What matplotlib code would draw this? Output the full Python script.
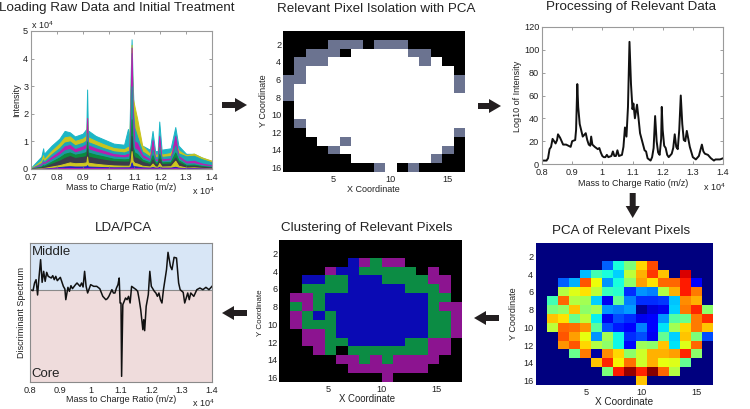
import matplotlib
matplotlib.use("Agg")
import matplotlib.pyplot as plt
from matplotlib.patches import FancyArrow
from matplotlib.transforms import Affine2D

plt.rcParams["font.family"] = ["Liberation Sans", "DejaVu Sans"]
plt.rcParams["mathtext.fontset"] = "custom"
plt.rcParams["mathtext.rm"] = "Liberation Sans"

W, H = 750, 409

# ---------------------------------------------------------------- raw data panel
raw_mz = [.70, .74, .747, .75, .78, .81, .83, .85, .87, .90, .914, .917, .920, .95, .98, 1.02, 1.06, 1.075, 1.08,
          1.085, 1.089, 1.093, 1.10, 1.11, 1.13, 1.16, 1.17, 1.18, 1.19, 1.196, 1.205, 1.24, 1.258, 1.27, 1.30,
          1.33, 1.36, 1.40]
raw_cyan = [.05, .45, .75, .55, .85, 1.1, 1.38, 1.33, 1.18, 1.28, 1.45, 2.88, 1.4, 1.2, 1.08, .92, .88, 1.45, .98,
            3.2, 4.7, 3.2, 1.4, 1.25, .85, .7, 1.38, .65, .65, 1.72, .7, .75, 1.52, .85, .55, .55, .42, .28]
raw_yellow = [.03, .3, .5, .35, .66, .92, 1.15, 1.18, 1.02, 1.1, 1.2, 1.85, 1.15, 1.02, .9, .76, .72, .8, .78,
              2.6, 4.5, 2.6, 2.28, 1.85, .85, .55, .9, .52, .52, 1.0, .52, .58, .95, .68, .5, .56, .42, .3]
raw_teal = [.02, .22, .35, .27, .54, .76, .96, 1.0, .86, .95, 1.03, 1.6, .98, .87, .76, .64, .6, .65, .64,
            2.3, 4.2, 2.3, 1.5, 1.2, .64, .45, .8, .44, .44, .85, .44, .47, .85, .57, .46, .48, .36, .24]
raw_magenta = [.015, .17, .27, .22, .44, .64, .82, .87, .72, .82, .9, 1.85, .86, .75, .66, .54, .5, .55, .54,
               2.1, 4.4, 2.1, 1.0, .95, .52, .35, 1.05, .35, .35, 1.2, .35, .38, 1.2, .47, .27, .3, .2, .13]
raw_teal2 = [.01, .12, .2, .17, .35, .52, .68, .73, .6, .69, .75, 1.3, .72, .63, .55, .45, .42, .45, .44,
             1.3, 3.0, 1.3, .75, .7, .42, .29, .7, .29, .29, .8, .29, .32, .85, .4, .2, .21, .14, .09]
raw_green = [.008, .09, .14, .12, .27, .42, .55, .6, .52, .57, .62, 1.0, .6, .52, .46, .37, .35, .36, .36,
             .8, 1.8, .8, .6, .55, .34, .24, .5, .24, .24, .55, .24, .26, .6, .32, .15, .16, .11, .07]
raw_gray = [.005, .06, .09, .08, .19, .3, .4, .47, .4, .44, .47, .75, .45, .39, .34, .28, .27, .27, .27,
            .55, 1.2, .55, .42, .4, .26, .18, .35, .18, .18, .38, .18, .2, .42, .24, .11, .12, .08, .05]
raw_yellow2 = [.003, .03, .04, .04, .09, .14, .19, .24, .21, .22, .24, .45, .23, .19, .16, .13, .12, .12, .12,
               .28, .65, .3, .22, .2, .12, .09, .2, .09, .09, .22, .09, .1, .3, .12, .05, .06, .04, .03]
raw_blue = [.002, .01, .015, .015, .04, .07, .09, .1, .09, .09, .1, .14, .09, .08, .07, .06, .06, .06, .06,
            .1, .24, .12, .1, .09, .06, .05, .07, .05, .05, .08, .05, .05, .08, .05, .03, .03, .02, .015]
raw_base = [.001, .005, .01, .01, .02, .03, .03, .04, .03, .03, .03, .04, .03, .03, .03, .025, .025, .025,
            .025, .03, .05, .03, .03, .03, .025, .02, .025, .02, .02, .03, .02, .02, .03, .02, .015, .015, .01, .01]
raw_layers = [raw_cyan, raw_yellow, raw_teal, raw_magenta, raw_teal2, raw_green, raw_gray, raw_yellow2, raw_blue,
              raw_base]
raw_colors = ["#1cb6c6", "#c9c41e", "#1ca6b4", "#b81eb0", "#1c9aa0", "#0c8a3e", "#3c3c4a", "#cfc820", "#2020c8",
              "#c018b8"]

# ---------------------------------------------------------------- processed spectrum
proc_mz = [.80, .815, .82, .825, .83, .835, .84, .845, .85, .853, .86, .87, .88, .895, .90, .91, .913, .917, .92,
           .925, .935, .945, .95, .955, .96, .963, .967, .975, .985, .99, .995, 1.0, 1.005, 1.01, 1.015, 1.02,
           1.03, 1.035, 1.04, 1.045, 1.05, 1.055, 1.065, 1.07, 1.075, 1.08, 1.085, 1.09, 1.095, 1.10, 1.103,
           1.108, 1.115, 1.12, 1.125, 1.13, 1.14, 1.145, 1.15, 1.16, 1.165, 1.17, 1.175, 1.18, 1.185, 1.19,
           1.195, 1.197, 1.20, 1.205, 1.21, 1.215, 1.22, 1.23, 1.235, 1.24, 1.245, 1.25, 1.255, 1.26, 1.265,
           1.27, 1.275, 1.28, 1.285, 1.29, 1.30, 1.31, 1.32, 1.33, 1.335, 1.34, 1.35, 1.36, 1.37, 1.375, 1.39,
           1.40]
proc_val = [3, 3, 5, 13, 15, 22, 20, 18, 21, 26, 23, 17, 17, 15, 20, 21, 30, 70, 50,
            35, 24, 27, 21, 17, 16, 24, 17, 15, 13, 14, 10, 7, 6, 6, 8, 6,
            7, 11, 7, 7, 12, 7, 8, 15, 32, 24, 50, 107, 70, 48, 53,
            40, 52, 40, 27, 22, 12, 11, 5, 3, 6, 14, 42, 20, 10, 8,
            22, 50, 30, 16, 14, 8, 6, 9, 14, 26, 15, 13, 30, 60, 35,
            21, 20, 29, 22, 15, 6, 4, 7, 17, 11, 9, 8, 5, 3, 4, 4,
            5]

# ---------------------------------------------------------------- discriminant spectrum
lda_mz = [.80, .81, .815, .82, .825, .83, .835, .84, .845, .85, .855, .86, .87, .875, .88, .885, .89, .90, .91,
          .915, .918, .925, .93, .935, .94, .95, .955, .965, .97, .975, .98, .985, .99, 1.0, 1.01, 1.02, 1.03,
          1.04, 1.05, 1.055, 1.06, 1.07, 1.075, 1.08, 1.085, 1.09, 1.094, 1.097, 1.10, 1.102, 1.106, 1.115,
          1.12, 1.125, 1.13, 1.135, 1.15, 1.155, 1.16, 1.165, 1.172, 1.175, 1.178, 1.183, 1.19, 1.195, 1.20,
          1.21, 1.215, 1.22, 1.225, 1.23, 1.235, 1.24, 1.245, 1.25, 1.255, 1.263, 1.268, 1.275, 1.283, 1.29,
          1.295, 1.305, 1.31, 1.32, 1.325, 1.33, 1.34, 1.35, 1.36, 1.37, 1.38, 1.39, 1.40]
lda_val = [0, -.3, 2, 3, -1.6, 4, 9, 2.2, 5.5, 2.5, 5.2, 4, 3.5, 4.2, 3, 4, 2.7, 3.7, 1,
           .2, -3, .7, -.5, 1.2, .3, 1.5, 2, 1, 2, .8, 5.5, 1, -1, 1.5, 1, 1, .3,
           -2, -3, -2.7, -2, 0, -1, -1, .5, 1.5, 3.5, -4, -4, -26, -4.5, -2.5,
           -3, -2, -4, 1, 0, -.5, -3, -6, -12, -9, -12.3, -5, -1.5, 5.5, 1,
           -.5, -1, -2, -1, -3, -4, 0, 3, 6, 11.2, 7, 6, 9.7, 9.5, 2,
           0, -.8, -4, -1, -3, -1, -2, 0, .5, 0, .7, 0, 1]

# ---------------------------------------------------------------- pixel maps
# 0 black, 1 grey, 2 white
isolation_map = [
    [0, 0, 0, 0, 0, 0, 0, 0, 0, 0, 0, 0, 0, 0, 0, 0],
    [0, 0, 0, 0, 1, 1, 1, 0, 1, 1, 1, 0, 0, 0, 0, 0],
    [0, 0, 1, 1, 1, 0, 2, 2, 2, 2, 2, 1, 1, 0, 0, 0],
    [0, 1, 1, 1, 2, 2, 2, 2, 2, 2, 2, 2, 1, 2, 0, 0],
    [0, 1, 2, 2, 2, 2, 2, 2, 2, 2, 2, 2, 2, 2, 2, 0],
    [1, 1, 2, 2, 2, 2, 2, 2, 2, 2, 2, 2, 2, 2, 2, 1],
    [1, 2, 2, 2, 2, 2, 2, 2, 2, 2, 2, 2, 2, 2, 2, 1],
    [1, 2, 2, 2, 2, 2, 2, 2, 2, 2, 2, 2, 2, 2, 2, 2],
    [0, 2, 2, 2, 2, 2, 2, 2, 2, 2, 2, 2, 2, 2, 2, 2],
    [0, 2, 2, 2, 2, 2, 2, 2, 2, 2, 2, 2, 2, 2, 2, 2],
    [0, 1, 2, 2, 2, 2, 2, 2, 2, 2, 2, 2, 2, 2, 2, 2],
    [0, 0, 2, 2, 2, 2, 2, 2, 2, 2, 2, 2, 2, 2, 2, 1],
    [0, 0, 0, 2, 2, 1, 2, 2, 2, 2, 2, 2, 2, 2, 2, 0],
    [0, 0, 0, 0, 1, 2, 2, 2, 2, 2, 2, 2, 2, 2, 1, 0],
    [0, 0, 0, 0, 0, 0, 2, 2, 2, 2, 2, 2, 2, 1, 0, 0],
    [0, 0, 0, 0, 0, 0, 0, 0, 1, 2, 0, 1, 0, 0, 0, 0],
]

pca_map = [
    [0, 0, 0, 0, 0, 0, 0, 0, 0, 0, 0, 0, 0, 0, 0, 0],
    [0, 0, 0, 0, 0, 0, 0, 0, 0, 0, 0, 0, 0, 0, 0, 0],
    [0, 0, 0, 0, 0, 0, .22, .38, .5, .68, .83, 0, 0, 0, 0, 0],
    [0, 0, 0, 0, .31, .43, .38, .33, .58, .72, .85, .7, 0, .92, 0, 0],
    [0, 0, .22, .3, .82, .64, .27, .38, .52, .74, .67, .8, .8, .88, .12, 0],
    [0, 0, .57, .62, .67, .58, .42, .4, .17, .27, .25, .57, .72, .88, .78, 0],
    [0, .43, .8, .57, .55, .33, .1, .47, .25, .17, .17, .18, .32, .76, .72, 0],
    [0, .5, .53, .7, .52, .55, .27, .25, .28, .02, .08, .1, .33, .78, .87, .52],
    [0, .7, .67, .48, .58, .36, .1, .2, .17, .1, .12, .27, .45, .48, .78, .86],
    [0, .58, .8, .79, .75, .46, .2, .15, .12, .25, .12, .35, .55, .68, .78, .7],
    [0, 0, .82, .74, .63, .27, .55, .37, .17, .2, .1, .47, .33, .7, .5, .2],
    [0, 0, .75, .82, .68, .57, .52, .37, .13, .54, .52, .7, .35, .62, .8, 0],
    [0, 0, 0, .48, .78, .03, .76, .68, .52, .6, .72, .72, .74, .87, .52, 0],
    [0, 0, 0, 0, 0, .7, .87, .65, .79, .6, .72, .63, .62, .47, 0, 0],
    [0, 0, 0, 0, 0, 0, .5, .88, .98, .87, .99, .8, .57, 0, 0, 0],
    [0, 0, 0, 0, 0, 0, 0, 0, 0, .7, 0, 0, 0, 0, 0, 0],
]

# 0 black, 1 blue, 2 green, 3 purple
cluster_map = [
    [0, 0, 0, 0, 0, 0, 0, 0, 0, 0, 0, 0, 0, 0, 0, 0],
    [0, 0, 0, 0, 0, 0, 0, 0, 0, 0, 0, 0, 0, 0, 0, 0],
    [0, 0, 0, 0, 0, 0, 1, 3, 2, 3, 3, 0, 0, 0, 0, 0],
    [0, 0, 0, 0, 3, 1, 1, 2, 2, 2, 2, 2, 0, 3, 0, 0],
    [0, 0, 1, 1, 2, 2, 1, 1, 1, 2, 2, 2, 2, 3, 3, 0],
    [0, 0, 2, 2, 2, 2, 1, 1, 1, 1, 1, 2, 2, 2, 3, 0],
    [0, 3, 3, 2, 1, 1, 1, 1, 1, 1, 1, 1, 1, 2, 2, 0],
    [0, 2, 3, 2, 1, 1, 1, 1, 1, 1, 1, 1, 1, 2, 3, 3],
    [0, 3, 2, 1, 2, 1, 1, 1, 1, 1, 1, 1, 1, 2, 2, 3],
    [0, 3, 2, 2, 2, 1, 1, 1, 1, 1, 1, 1, 1, 2, 2, 3],
    [0, 0, 3, 3, 2, 1, 1, 1, 1, 1, 1, 1, 1, 2, 2, 3],
    [0, 0, 3, 3, 2, 2, 1, 1, 1, 1, 1, 2, 2, 3, 3, 0],
    [0, 0, 0, 3, 2, 0, 2, 2, 2, 2, 2, 2, 2, 3, 3, 0],
    [0, 0, 0, 0, 0, 3, 3, 2, 3, 2, 3, 3, 3, 3, 0, 0],
    [0, 0, 0, 0, 0, 0, 3, 3, 3, 3, 3, 3, 3, 0, 0, 0],
    [0, 0, 0, 0, 0, 0, 0, 0, 0, 3, 0, 0, 0, 0, 0, 0],
]

y_ticks = [2, 4, 6, 8, 10, 12, 14, 16]
x_ticks = [5, 10, 15]
mz_ticks = [.8, .9, 1, 1.1, 1.2, 1.3, 1.4]
mz_labels = ["0.8", "0.9", "1", "1.1", "1.2", "1.3", "1.4"]
raw_mz_ticks = [.7, .8, .9, 1, 1.1, 1.2, 1.3, 1.4]
raw_mz_labels = ["0.7", "0.8", "0.9", "1", "1.1", "1.2", "1.3", "1.4"]

TICK_FS = 6.6
LABEL_FS = 6.5
TITLE_FS = 9.6
INK = "#222222"

fig = plt.figure(figsize=(W / 100, H / 100), dpi=100)
# everything placed in reference pixels, y down
px = Affine2D().scale(1 / W, -1 / H).translate(0, 1) + fig.transFigure


def make_axes(left, top, right, bottom):
    return fig.add_axes([left / W, 1 - bottom / H, (right - left) / W, (bottom - top) / H])


def label(x, y, s, fs=LABEL_FS, rotation=0, ha="center"):
    fig.text(x, y, s, transform=px, fontsize=fs, rotation=rotation, ha=ha, va="center", color=INK)


def style_line_axes(ax):
    for sp in ax.spines.values():
        sp.set_color("#9a9a9a")
        sp.set_linewidth(0.8)
    ax.tick_params(direction="in", length=2, width=0.5, color="#777777", top=True, right=True,
                   labelsize=TICK_FS, labelcolor=INK, pad=2)
    ax.tick_params(axis="x", pad=3)


def style_map_axes(ax, ypad):
    ax.set_xticks(x_ticks)
    ax.set_yticks(y_ticks)
    ax.tick_params(length=0, labelsize=TICK_FS, labelcolor=INK, pad=2)
    ax.tick_params(axis="y", pad=ypad)
    for sp in ax.spines.values():
        sp.set_visible(False)


def arrow(x0, y0, x1, y1):
    fig.add_artist(FancyArrow(x0, y0, x1 - x0, y1 - y0, width=6, head_width=14, head_length=12,
                              length_includes_head=True, transform=px, color="#231f20", lw=0))


# raw spectra
ax = make_axes(31, 31, 212, 169)
for vals, col in zip(raw_layers, raw_colors):
    ax.fill_between(raw_mz, 0, vals, color=col, lw=0.7)
ax.set_xlim(.7, 1.4)
ax.set_ylim(0, 5)
ax.set_xticks(raw_mz_ticks, raw_mz_labels)
ax.set_yticks([0, 1, 2, 3, 4, 5])
style_line_axes(ax)

# isolation map
ax = make_axes(282.5, 31, 464, 172)
ax.imshow(isolation_map, cmap=matplotlib.colors.ListedColormap(["#000000", "#6b7390", "#ffffff"]),
          extent=(.5, 16.5, 16.5, .5), aspect="auto", interpolation="nearest", vmin=0, vmax=2)
style_map_axes(ax, 1)

# processed spectrum
ax = make_axes(542, 27, 723, 164)
ax.plot(proc_mz, proc_val, color="#111111", lw=1.4)
ax.set_xlim(.8, 1.4)
ax.set_ylim(0, 120)
ax.set_xticks(mz_ticks, mz_labels)
ax.set_yticks([0, 20, 40, 60, 80, 100, 120])
style_line_axes(ax)

# PCA map
ax = make_axes(536, 243, 713, 385)
ax.imshow(pca_map, cmap="jet", extent=(.5, 16.5, 16.5, .5), aspect="auto", interpolation="nearest", vmin=0, vmax=1)
style_map_axes(ax, 2)

# cluster map
ax = make_axes(279, 240, 462, 382)
ax.imshow(cluster_map, cmap=matplotlib.colors.ListedColormap(["#000000", "#0a0ab4", "#0c8c44", "#8c1490"]),
          extent=(.5, 17.4, 16.5, .5), aspect="auto", interpolation="nearest", vmin=0, vmax=3)
style_map_axes(ax, 1)

# discriminant spectrum
ax = make_axes(30, 243, 212, 382)
ax.axhspan(0, 14, color="#d8e6f6", lw=0)
ax.axhspan(-27.7, 0, color="#efdcdc", lw=0)
ax.axhline(0, color="#8a8a8a", lw=0.8)
ax.plot(lda_mz, lda_val, color="#111111", lw=1.1)
ax.set_xlim(.8, 1.4)
ax.set_ylim(-27.7, 14)
ax.set_xticks(mz_ticks, mz_labels)
ax.set_yticks([])
ax.tick_params(length=0, labelsize=TICK_FS, labelcolor=INK, pad=3)
for sp in ax.spines.values():
    sp.set_color("#8a8a8a")
    sp.set_linewidth(0.8)
ax.text(.805, 11.3, "Middle", fontsize=9.5, color=INK, va="center")
ax.text(.805, -25.3, "Core", fontsize=9.5, color=INK, va="center")

# titles
label(117, 8, "Loading Raw Data and Initial Treatment", TITLE_FS)
label(376, 9, "Relevant Pixel Isolation with PCA", TITLE_FS)
label(631, 7, "Processing of Relevant Data", TITLE_FS)
label(621, 231, "PCA of Relevant Pixels", TITLE_FS)
label(367, 228, "Clustering of Relevant Pixels", TITLE_FS)
label(123, 228, "LDA/PCA", TITLE_FS)

# axis labels
mz_text = "Mass to Charge Ratio (m/z)"
label(121, 187, mz_text)
label(17, 100, "Intensity", rotation=90)
label(373, 189, "X Coordinate")
label(263, 101, "Y Coordinate", rotation=90)
label(633, 183, mz_text)
label(518, 96, "Log10 of Intensity", rotation=90)
label(624, 402, "X Coordinate", 7.2)
label(513, 314, "Y Coordinate", rotation=90)
label(367, 399, "X Coordinate", 6.9)
label(261, 313, "Y Coordinate", 5.8, rotation=90)
label(121, 400, mz_text)
label(22, 313, "Discriminant Spectrum", rotation=90)

# axis multipliers
power = r"x 10$^{4}$"
label(31, 25, power, ha="left")
label(192, 191, power, ha="left")
label(703, 187, power, ha="left")
label(192, 403, power, ha="left")

# workflow arrows
arrow(222, 105, 247, 105)
arrow(478, 106, 501, 106)
arrow(632.7, 193, 632.7, 218)
arrow(499, 318, 474, 318)
arrow(247, 313, 222, 313)

fig.savefig("out.png", dpi=100)
